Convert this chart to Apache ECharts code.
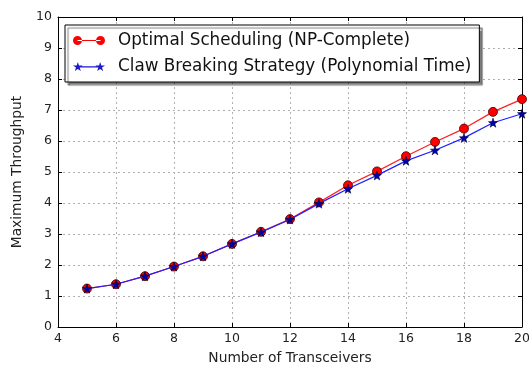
<!DOCTYPE html>
<html>
<head>
<meta charset="utf-8">
<script src="https://cdn.jsdelivr.net/npm/echarts@6/dist/echarts.min.js"></script>
<style>
  html, body { margin: 0; padding: 0; background: #fff; }
  #chart { width: 529px; height: 367px; }
</style>
</head>
<body>
<div id="chart"></div>
<script>
const transceivers = [5, 6, 7, 8, 9, 10, 11, 12, 13, 14, 15, 16, 17, 18, 19, 20];
const optimal = [1.24, 1.38, 1.64, 1.95, 2.28, 2.68, 3.07, 3.48, 4.02, 4.57, 5.02, 5.51, 5.97, 6.40, 6.94, 7.35];
const clawBreaking = [1.24, 1.38, 1.64, 1.95, 2.28, 2.68, 3.06, 3.47, 3.98, 4.46, 4.89, 5.36, 5.70, 6.10, 6.59, 6.88];

const STAR = "path://M0,-10L2.35,-3.24L9.51,-3.09L3.8,1.24L5.88,8.09L0,4L-5.88,8.09L-3.8,1.24L-9.51,-3.09L-2.35,-3.24Z";
// legend icons: line with a marker at each end, like matplotlib's
const CIRCLE_ICON = "path://M0,5A4.5,4.5 0 1,0 9,5A4.5,4.5 0 1,0 0,5Z" +
  "M23,5A4.5,4.5 0 1,0 32,5A4.5,4.5 0 1,0 23,5Z" +
  "M4.5,4.4L27.5,4.4L27.5,5.6L4.5,5.6Z";
const STAR_ICON = "path://M5,0L6.12,3.46L9.76,3.46L6.82,5.59L7.94,9.05L5,6.91L2.06,9.05L3.18,5.59L0.24,3.46L3.88,3.46Z" +
  "M27,0L28.12,3.46L31.76,3.46L28.82,5.59L29.94,9.05L27,6.91L24.06,9.05L25.18,5.59L22.24,3.46L25.88,3.46Z" +
  "M5,4.4L27,4.4L27,5.6L5,5.6Z";
const FONT = "DejaVu Sans";

const chart = echarts.init(document.getElementById("chart"), null, { renderer: "canvas" });

const gridLine = { show: true, lineStyle: { color: "#b0b0b0", type: [2, 3], width: 1 } };
const tick = { show: true, inside: true, length: 4, lineStyle: { color: "#000" } };
const axisLine = { show: true, onZero: false, lineStyle: { color: "#000", width: 1 } };

chart.setOption({
  animation: false,
  grid: { left: 58, right: 7, top: 17, bottom: 40, outerBoundsMode: "none" },
  legend: {
    orient: "vertical",
    left: 65,
    top: 25,
    padding: [6, 8, 6, 8],
    itemGap: 7,
    itemWidth: 32,
    itemHeight: 10,
    backgroundColor: "#fff",
    borderColor: "#000",
    borderWidth: 1,
    borderRadius: 0,
    shadowColor: "rgba(0,0,0,0.5)",
    shadowBlur: 1,
    shadowOffsetX: 3,
    shadowOffsetY: 3,
    textStyle: { fontFamily: FONT, fontSize: 16.8, lineHeight: 19, color: "#111", padding: [0, 0, 0, 8] },
    data: [
      { name: "Optimal Scheduling (NP-Complete)", icon: CIRCLE_ICON, itemStyle: { color: "#ff0000", borderWidth: 0 } },
      { name: "Claw Breaking Strategy (Polynomial Time)", icon: STAR_ICON, itemStyle: { color: "#1a1acc", borderWidth: 0 } }
    ]
  },
  xAxis: [
    {
      type: "value", min: 4, max: 20, interval: 2,
      name: "Number of Transceivers", nameLocation: "middle", nameGap: 24,
      nameTextStyle: { fontFamily: FONT, fontSize: 13.8, color: "#222" },
      axisLine, axisTick: tick, splitLine: gridLine,
      axisLabel: { fontFamily: FONT, fontSize: 12.5, color: "#222", margin: 5 }
    },
    {
      type: "value", min: 4, max: 20, interval: 2, position: "top",
      axisLine, axisTick: tick, splitLine: { show: false }, axisLabel: { show: false }
    }
  ],
  yAxis: [
    {
      type: "value", min: 0, max: 10, interval: 1,
      name: "Maximum Throughput", nameLocation: "middle", nameGap: 34, nameRotate: 90,
      nameTextStyle: { fontFamily: FONT, fontSize: 13.8, color: "#222" },
      axisLine, axisTick: tick, splitLine: gridLine,
      axisLabel: { fontFamily: FONT, fontSize: 12.5, color: "#222", margin: 6 }
    },
    {
      type: "value", min: 0, max: 10, interval: 1, position: "right",
      axisLine, axisTick: tick, splitLine: { show: false }, axisLabel: { show: false }
    }
  ],
  series: [
    {
      name: "Optimal Scheduling (NP-Complete)",
      type: "line",
      data: transceivers.map((x, i) => [x, optimal[i]]),
      symbol: "circle",
      symbolSize: 9,
      lineStyle: { color: "#ff2020", width: 1.2 },
      itemStyle: { color: "#ff0000", borderColor: "#3a0000", borderWidth: 0.8 },
      z: 2
    },
    {
      name: "Claw Breaking Strategy (Polynomial Time)",
      type: "line",
      data: transceivers.map((x, i) => [x, clawBreaking[i]]),
      symbol: STAR,
      symbolSize: 9,
      lineStyle: { color: "#2020ff", width: 1.2 },
      itemStyle: { color: "#0000aa", borderColor: "#000033", borderWidth: 0.6 },
      z: 3
    }
  ]
});
</script>
</body>
</html>
